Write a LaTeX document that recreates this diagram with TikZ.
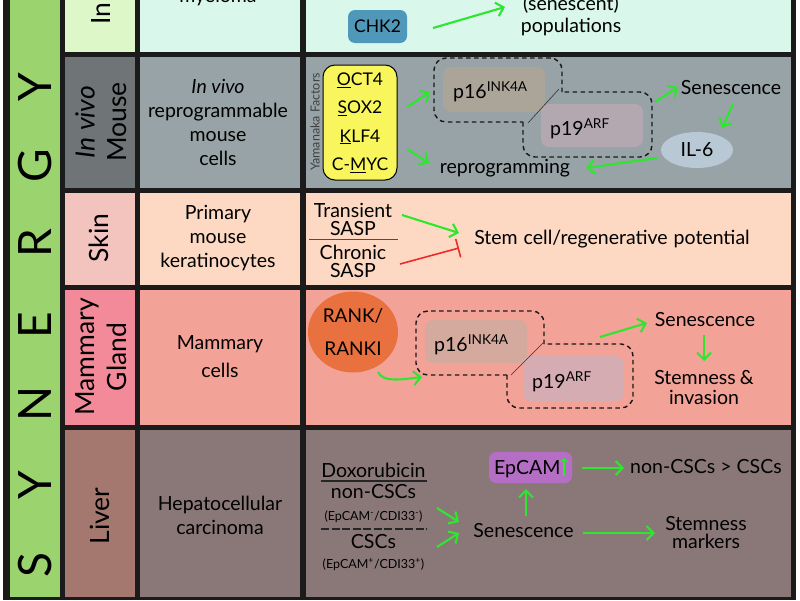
\documentclass[tikz,border=0pt]{standalone}
\usepackage{fontspec}
\setmainfont{Lato}
\usetikzlibrary{arrows.meta,shapes.geometric}
\definecolor{frame}{HTML}{1B1B1B}
\definecolor{syn}{HTML}{9BD46F}
\definecolor{hA}{HTML}{DEF7C9}
\definecolor{cA}{HTML}{D9F7EB}
\definecolor{hB}{HTML}{6F7476}
\definecolor{cB}{HTML}{97A3A6}
\definecolor{hC}{HTML}{F3C3BE}
\definecolor{cC}{HTML}{FDD8C2}
\definecolor{hD}{HTML}{F38A9A}
\definecolor{cD}{HTML}{F3A297}
\definecolor{hE}{HTML}{A5786F}
\definecolor{cE}{HTML}{8A7879}
\definecolor{chk}{HTML}{4F98BA}
\definecolor{yam}{HTML}{F8F65C}
\definecolor{pA}{HTML}{AAA598}
\definecolor{pB}{HTML}{B3A8B0}
\definecolor{ilsix}{HTML}{B8C8D4}
\definecolor{rank}{HTML}{E8713F}
\definecolor{pC}{HTML}{D4AA9E}
\definecolor{pD}{HTML}{D5ACB1}
\definecolor{epc}{HTML}{B46EC3}
\definecolor{agreen}{HTML}{2EE62E}
\definecolor{ared}{HTML}{F02A2A}
\begin{document}
\begin{tikzpicture}[x=1pt,y=-1pt,
  txt/.style={font=\fontsize{19.5}{24}\selectfont, inner sep=0pt, align=center},
  caps/.style={font=\fontsize{17.5}{21}\selectfont, inner sep=0pt},
  hdr/.style={font=\fontsize{26.5}{32}\selectfont, inner sep=0pt, align=center, rotate=90},
  small/.style={font=\fontsize{12.5}{15}\selectfont, inner sep=0pt},
  letter/.style={font=\fontsize{46}{46}\selectfont, inner sep=0pt, rotate=90},
  garrow/.style={draw=agreen, line width=2.1pt, -{Straight Barb[length=7pt,width=14pt]}},
  rbar/.style={draw=ared, line width=1.6pt, -{Bar[width=19pt]}},
  dbox/.style={draw=black!90, line width=1.4pt, dash pattern=on 4.5pt off 3.5pt, rounded corners=12pt},
  pbox/.style={rounded corners=8pt, inner sep=0pt},
  thin/.style={draw=black!80, line width=0.6pt}
]
\useasboundingbox (0,0) rectangle (800,600);
\clip (0,0) rectangle (800,600);
\fill[white] (0,0) rectangle (800,600);
\fill[frame] (3,-10) rectangle (796,600);
% synergy column
\fill[syn] (10,-10) rectangle (60,597);
% row 1
\fill[hA] (65,-10) rectangle (135,52);
\fill[cA] (140,-10) rectangle (300,52);
\fill[cA] (306,-10) rectangle (791,52);
% row 2
\fill[hB] (65,57) rectangle (135,188);
\fill[cB] (140,57) rectangle (300,188);
\fill[cB] (306,57) rectangle (791,188);
% row 3
\fill[hC] (65,193) rectangle (135,285);
\fill[cC] (140,193) rectangle (300,285);
\fill[cC] (306,193) rectangle (791,285);
% row 4
\fill[hD] (65,290) rectangle (135,425);
\fill[cD] (140,290) rectangle (300,425);
\fill[cD] (306,290) rectangle (791,425);
% row 5
\fill[hE] (65,430) rectangle (135,597);
\fill[cE] (140,430) rectangle (300,597);
\fill[cE] (306,430) rectangle (791,597);

% SYNERGY letters
\node[letter] (L1) at (35,565) {S};
\node[letter] (L2) at (35,485) {Y};
\node[letter] (L3) at (35,404) {N};
\node[letter] (L4) at (35,325) {E};
\node[letter] (L5) at (35,243) {R};
\node[letter] (L6) at (35,166) {G};
\node[letter] (L7) at (35,87) {Y};

% headers
\node[hdr, anchor=base west] (h1) at (110,25) {In};
\node[hdr] (h2) at (101,122) {\textit{In vivo}\\Mouse};
\node[hdr] (h3) at (99,238) {Skin};
\node[hdr] (h4) at (101,357) {Mammary\\Gland};
\node[hdr] (h5) at (100,516) {Liver};

% column 2
\node[txt, anchor=base] (c1) at (218,2) {myeloma};
\node[txt] (c2) at (218,122.5) {\textit{In vivo}\\reprogrammable\\mouse\\cells};
\node[txt] (c3) at (218,238) {Primary\\mouse\\keratinocytes};
\node[txt, font=\fontsize{19.5}{28}\selectfont] (c4) at (220,357) {Mammary\\cells};
\node[txt] (c5) at (220,515) {Hepatocellular\\carcinoma};

% ===== row 1 col 3
\node[caps, fill=chk, rounded corners=7pt, minimum width=59pt, minimum height=33pt] (chk) at (377.5,26.5) {CHK2};
\node[txt, anchor=base] (sen1) at (571,10) {(senescent)};
\node[txt, anchor=base] (pop) at (571,32) {populations};
\coordinate (a0s) at (433,28); \coordinate (a0e) at (505,7);
\draw[garrow] (a0s) -- (a0e);

% ===== row 2 col 3
\node[small, rotate=90, text=black!75] (yf) at (315,122) {Yamanaka Factors};
\node[draw=black, line width=1pt, fill=yam, rounded corners=12pt, minimum width=74pt, minimum height=115pt, inner sep=0pt] (yambox) at (360,122.5) {};
\node[caps] (oct) at (360,80) {\underline{O}CT4};
\node[caps] (sox) at (360,108) {\underline{S}OX2};
\node[caps] (klf) at (360,137) {\underline{K}LF4};
\node[caps] (myc) at (360,165) {C-\underline{M}YC};
% p16 / p19 boxes
\node[pbox, fill=pA, minimum width=102pt, minimum height=45pt] (p16a) at (494,89.5) {};
\node[pbox, fill=pB, minimum width=102pt, minimum height=43pt] (p19a) at (592,125.5) {};
\node[txt, anchor=west] (p16at) at (453,92) {p16\textsuperscript{INK4A}};
\node[txt, anchor=west] (p19at) at (550,129) {p19\textsuperscript{ARF}};
\draw[dbox] (562,92) -- (562,58) -- (434,58) -- (434,122) -- (523,122);
\draw[dbox] (523,122) -- (523,157) -- (652,157) -- (652,92) -- (562,92);
\coordinate (j1a) at (528,123); \coordinate (j1b) at (559,89);
\draw[thin] (j1a) -- (j1b);
\node[txt] (sen2) at (731,88) {Senescence};
\node[ellipse, fill=ilsix, minimum width=72pt, minimum height=36pt, inner sep=0pt, font=\fontsize{19.5}{24}\selectfont] (il6) at (697,150) {IL-6};
\node[txt] (repro) at (505,168) {reprogramming};
\coordinate (a1s) at (407,107); \coordinate (a1e) at (430,92);
\coordinate (a2s) at (407,149); \coordinate (a2e) at (429,163);
\coordinate (a3s) at (655,102); \coordinate (a3e) at (678,87);
\coordinate (a4s) at (733,104); \coordinate (a4e) at (722,128);
\coordinate (a5s) at (657,158); \coordinate (a5e) at (586,168);
\draw[garrow] (a1s) -- (a1e);
\draw[garrow] (a2s) -- (a2e);
\draw[garrow] (a3s) -- (a3e);
\draw[garrow] (a4s) -- (a4e);
\draw[garrow] (a5s) -- (a5e);

% ===== row 3 col 3
\node[txt, anchor=base] (tr1) at (353,217) {Transient};
\node[txt, anchor=base] (tr2) at (353,235) {SASP};
\node[txt, anchor=base] (ch1) at (353,259) {Chronic};
\node[txt, anchor=base] (ch2) at (353,277) {SASP};
\coordinate (r1) at (309,239); \coordinate (r2) at (398,239);
\draw[draw=black!70, line width=1pt] (r1) -- (r2);
\node[txt, anchor=base] (stem) at (612,244) {Stem\hspace{6pt}cell/regenerative\hspace{6pt}potential};
\coordinate (a6s) at (402,215); \coordinate (a6e) at (459,233);
\coordinate (a7s) at (400,264); \coordinate (a7e) at (459,248);
\draw[garrow] (a6s) -- (a6e);
\draw[rbar] (a7s) -- (a7e);

% ===== row 4 col 3
\node[ellipse, fill=rank, minimum width=90pt, minimum height=81pt, inner sep=0pt, font=\fontsize{19}{33}\selectfont, align=center] (rank) at (353,332) {RANK/\\RANKI};
\node[pbox, fill=pC, minimum width=102pt, minimum height=43pt] (p16b) at (476,341.5) {};
\node[pbox, fill=pD, minimum width=101pt, minimum height=45pt] (p19b) at (573.5,378.5) {};
\node[txt, anchor=west] (p16bt) at (434,345) {p16\textsuperscript{INK4A}};
\node[txt, anchor=west] (p19bt) at (532,382) {p19\textsuperscript{ARF}};
\draw[dbox] (544,344) -- (544,311) -- (416,311) -- (416,375) -- (507,375);
\draw[dbox] (507,375) -- (507,408) -- (633,408) -- (633,344) -- (544,344);
\coordinate (j2a) at (511,375); \coordinate (j2b) at (543,343);
\draw[thin] (j2a) -- (j2b);
\node[txt, anchor=base] (sen3) at (705,326) {Senescence};
\node[txt, anchor=base] (stm1) at (704,384) {Stemness\hspace{4pt}\&};
\node[txt, anchor=base] (stm2) at (704,404) {invasion};
\coordinate (b1s) at (378,372); \coordinate (b1e) at (422,377);
\draw[garrow] (b1s) .. controls (383,382) and (398,380) .. (b1e);
\coordinate (b2s) at (600,337); \coordinate (b2e) at (647,323);
\coordinate (b3s) at (704,335); \coordinate (b3e) at (704,361);
\draw[garrow] (b2s) -- (b2e);
\draw[garrow] (b3s) -- (b3e);

% ===== row 5 col 3
\node[txt, anchor=base] (dox) at (373.5,477) {Doxorubicin};
\coordinate (u1) at (321,481); \coordinate (u2) at (427,481);
\draw[draw=black!85, line width=1.3pt] (u1) -- (u2);
\node[txt, anchor=base] (ncsc) at (373.5,498) {non-CSCs};
\node[small, anchor=base] (ep1) at (373.5,520) {(EpCAM\textsuperscript{-}/CDI33\textsuperscript{-})};
\coordinate (d1) at (321,529); \coordinate (d2) at (427,529);
\draw[draw=black!85, line width=1.3pt, dash pattern=on 8pt off 2.5pt] (d1) -- (d2);
\node[txt, anchor=base] (csc) at (373.5,548) {CSCs};
\node[small, anchor=base] (ep2) at (373.5,568) {(EpCAM\textsuperscript{+}/CDI33\textsuperscript{+})};
\node[txt, anchor=base] (sen4) at (523.5,537) {Senescence};
\node[pbox, fill=epc, rounded corners=7pt, minimum width=83pt, minimum height=31pt] (epbox) at (530.5,467.5) {};
\node[txt, anchor=base west] (eptxt) at (494,474) {EpCAM};
\coordinate (eu1) at (564,476); \coordinate (eu2) at (564,458);
\draw[draw=agreen, line width=1.3pt, -{Straight Barb[length=3pt,width=7pt]}] (eu1) -- (eu2);
\node[txt, anchor=base] (ncg) at (706,473) {non-CSCs\hspace{5pt}>\hspace{5pt}CSCs};
\node[txt, anchor=base] (sm1) at (706,530) {Stemness};
\node[txt, anchor=base] (sm2) at (706,548) {markers};
\coordinate (c1s) at (437,508); \coordinate (c1e) at (459,522);
\coordinate (c2s) at (437,547); \coordinate (c2e) at (459,533);
\coordinate (c3s) at (526,516); \coordinate (c3e) at (526,489);
\coordinate (c4s) at (582,468); \coordinate (c4e) at (624,468);
\coordinate (c5s) at (583,533); \coordinate (c5e) at (655,533);
\draw[garrow] (c1s) -- (c1e);
\draw[garrow] (c2s) -- (c2e);
\draw[garrow] (c3s) -- (c3e);
\draw[garrow] (c4s) -- (c4e);
\draw[garrow] (c5s) -- (c5e);
\end{tikzpicture}
\end{document}
